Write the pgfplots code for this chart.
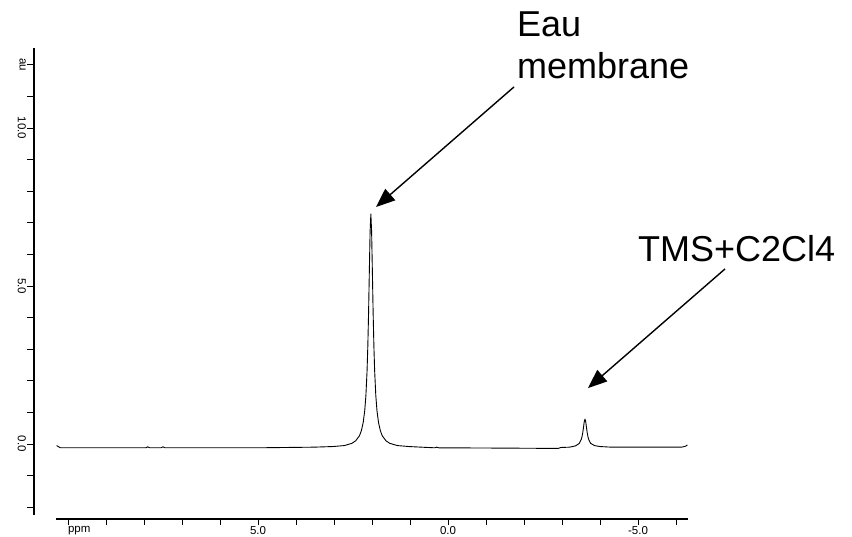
\documentclass[border=0pt]{standalone}
\usepackage{fontspec}
\setmainfont{Liberation Sans}
\usepackage{pgfplots}
\pgfplotsset{compat=1.18}
\usetikzlibrary{arrows.meta}
\begin{document}
\begin{tikzpicture}
% x axis + spectrum
\begin{axis}[
  at={(56pt,18pt)}, anchor=south west,
  scale only axis, width=632pt, height=471pt,
  xmin=-6.316, xmax=10.316, ymin=-2.373, ymax=12.532,
  x dir=reverse,
  axis x line*=bottom, axis y line=none,
  x axis line style={-, line width=1.1pt, black},
  xtick={10,5,0,-5}, xticklabels={\rlap{ppm},5.0,0.0,-5.0},
  minor xtick={-6,-4,-3,-2,-1,1,2,3,4,6,7,8,9},
  tick align=outside, major tick length=6pt, minor tick length=6pt,
  every tick/.style={black, line width=0.9pt},
  xticklabel style={font=\fontsize{11.5}{12}\selectfont, inner sep=1pt},
  clip=false,
]
\addplot[black, line width=0.9pt, line join=round] coordinates {
(10.30,-0.05) (10.20,-0.12) (9.00,-0.12) (7.95,-0.12) (7.90,-0.09) (7.85,-0.12)
(7.55,-0.12) (7.50,-0.09) (7.45,-0.12) (5.00,-0.12) (3.53,-0.10)
(3.03,-0.08) (2.73,-0.05) (2.53,0.02) (2.43,0.10) (2.33,0.26) (2.28,0.42)
(2.23,0.69) (2.19,1.07) (2.16,1.54) (2.13,2.31) (2.11,3.09) (2.09,4.15)
(2.07,5.46) (2.05,6.72) (2.03,7.28) (2.01,6.72) (1.99,5.46) (1.97,4.15)
(1.95,3.09) (1.93,2.31) (1.90,1.54) (1.87,1.07) (1.83,0.69) (1.78,0.42)
(1.73,0.26) (1.63,0.10) (1.53,0.02) (1.33,-0.05) (1.03,-0.08) (0.53,-0.11)
(0.35,-0.12) (0.30,-0.10) (0.25,-0.12) (-1.50,-0.13) (-2.90,-0.14) (-2.97,-0.11)
(-3.20,-0.10) (-3.355,-0.06) (-3.455,0.02) (-3.505,0.14) (-3.525,0.22)
(-3.545,0.345) (-3.565,0.52) (-3.585,0.70) (-3.605,0.79) (-3.625,0.70)
(-3.645,0.52) (-3.665,0.345) (-3.685,0.22) (-3.705,0.14) (-3.755,0.02)
(-3.855,-0.05) (-4.00,-0.08) (-4.30,-0.10) (-6.15,-0.10) (-6.25,-0.07) (-6.30,-0.03)
};
\draw[-{Triangle[length=19pt,width=15pt]}, line width=1.4pt] (axis cs:-1.737,11.30) -- (axis cs:1.895,7.50);
\draw[-{Triangle[length=19pt,width=15pt]}, line width=1.4pt] (axis cs:-7.29,5.54) -- (axis cs:-3.684,1.77);
\node[anchor=base west, inner sep=0pt, font=\fontsize{36}{36}\selectfont] at (axis cs:-1.816,12.88) {Eau};
\node[anchor=base west, inner sep=0pt, font=\fontsize{36}{36}\selectfont] at (axis cs:-1.816,11.58) {membrane};
\node[anchor=base west, inner sep=0pt, font=\fontsize{36}{36}\selectfont] at (axis cs:-5.0,5.79) {TMS+C2Cl4};
\end{axis}
% y axis
\begin{axis}[
  at={(34pt,22pt)}, anchor=south west,
  scale only axis, width=100pt, height=467pt,
  xmin=0, xmax=1, ymin=-2.247, ymax=12.532,
  axis y line*=left, axis x line=none,
  y axis line style={-, line width=1.1pt, black},
  ytick={0,5,10,12}, yticklabels={0.0,5.0,10.0,au},
  minor ytick={-2,-1,1,2,3,4,6,7,8,9,11},
  tick align=outside, major tick length=7pt, minor tick length=7pt,
  every tick/.style={black, line width=0.9pt},
  yticklabel style={rotate=-90, anchor=north, font=\fontsize{11.5}{12}\selectfont, inner sep=1pt},
]
\addplot[draw=none] coordinates {(0.5,0)};
\end{axis}
\pgfresetboundingbox
\path[use as bounding box] (0,0) rectangle (852pt,537pt);
\end{tikzpicture}
\end{document}
